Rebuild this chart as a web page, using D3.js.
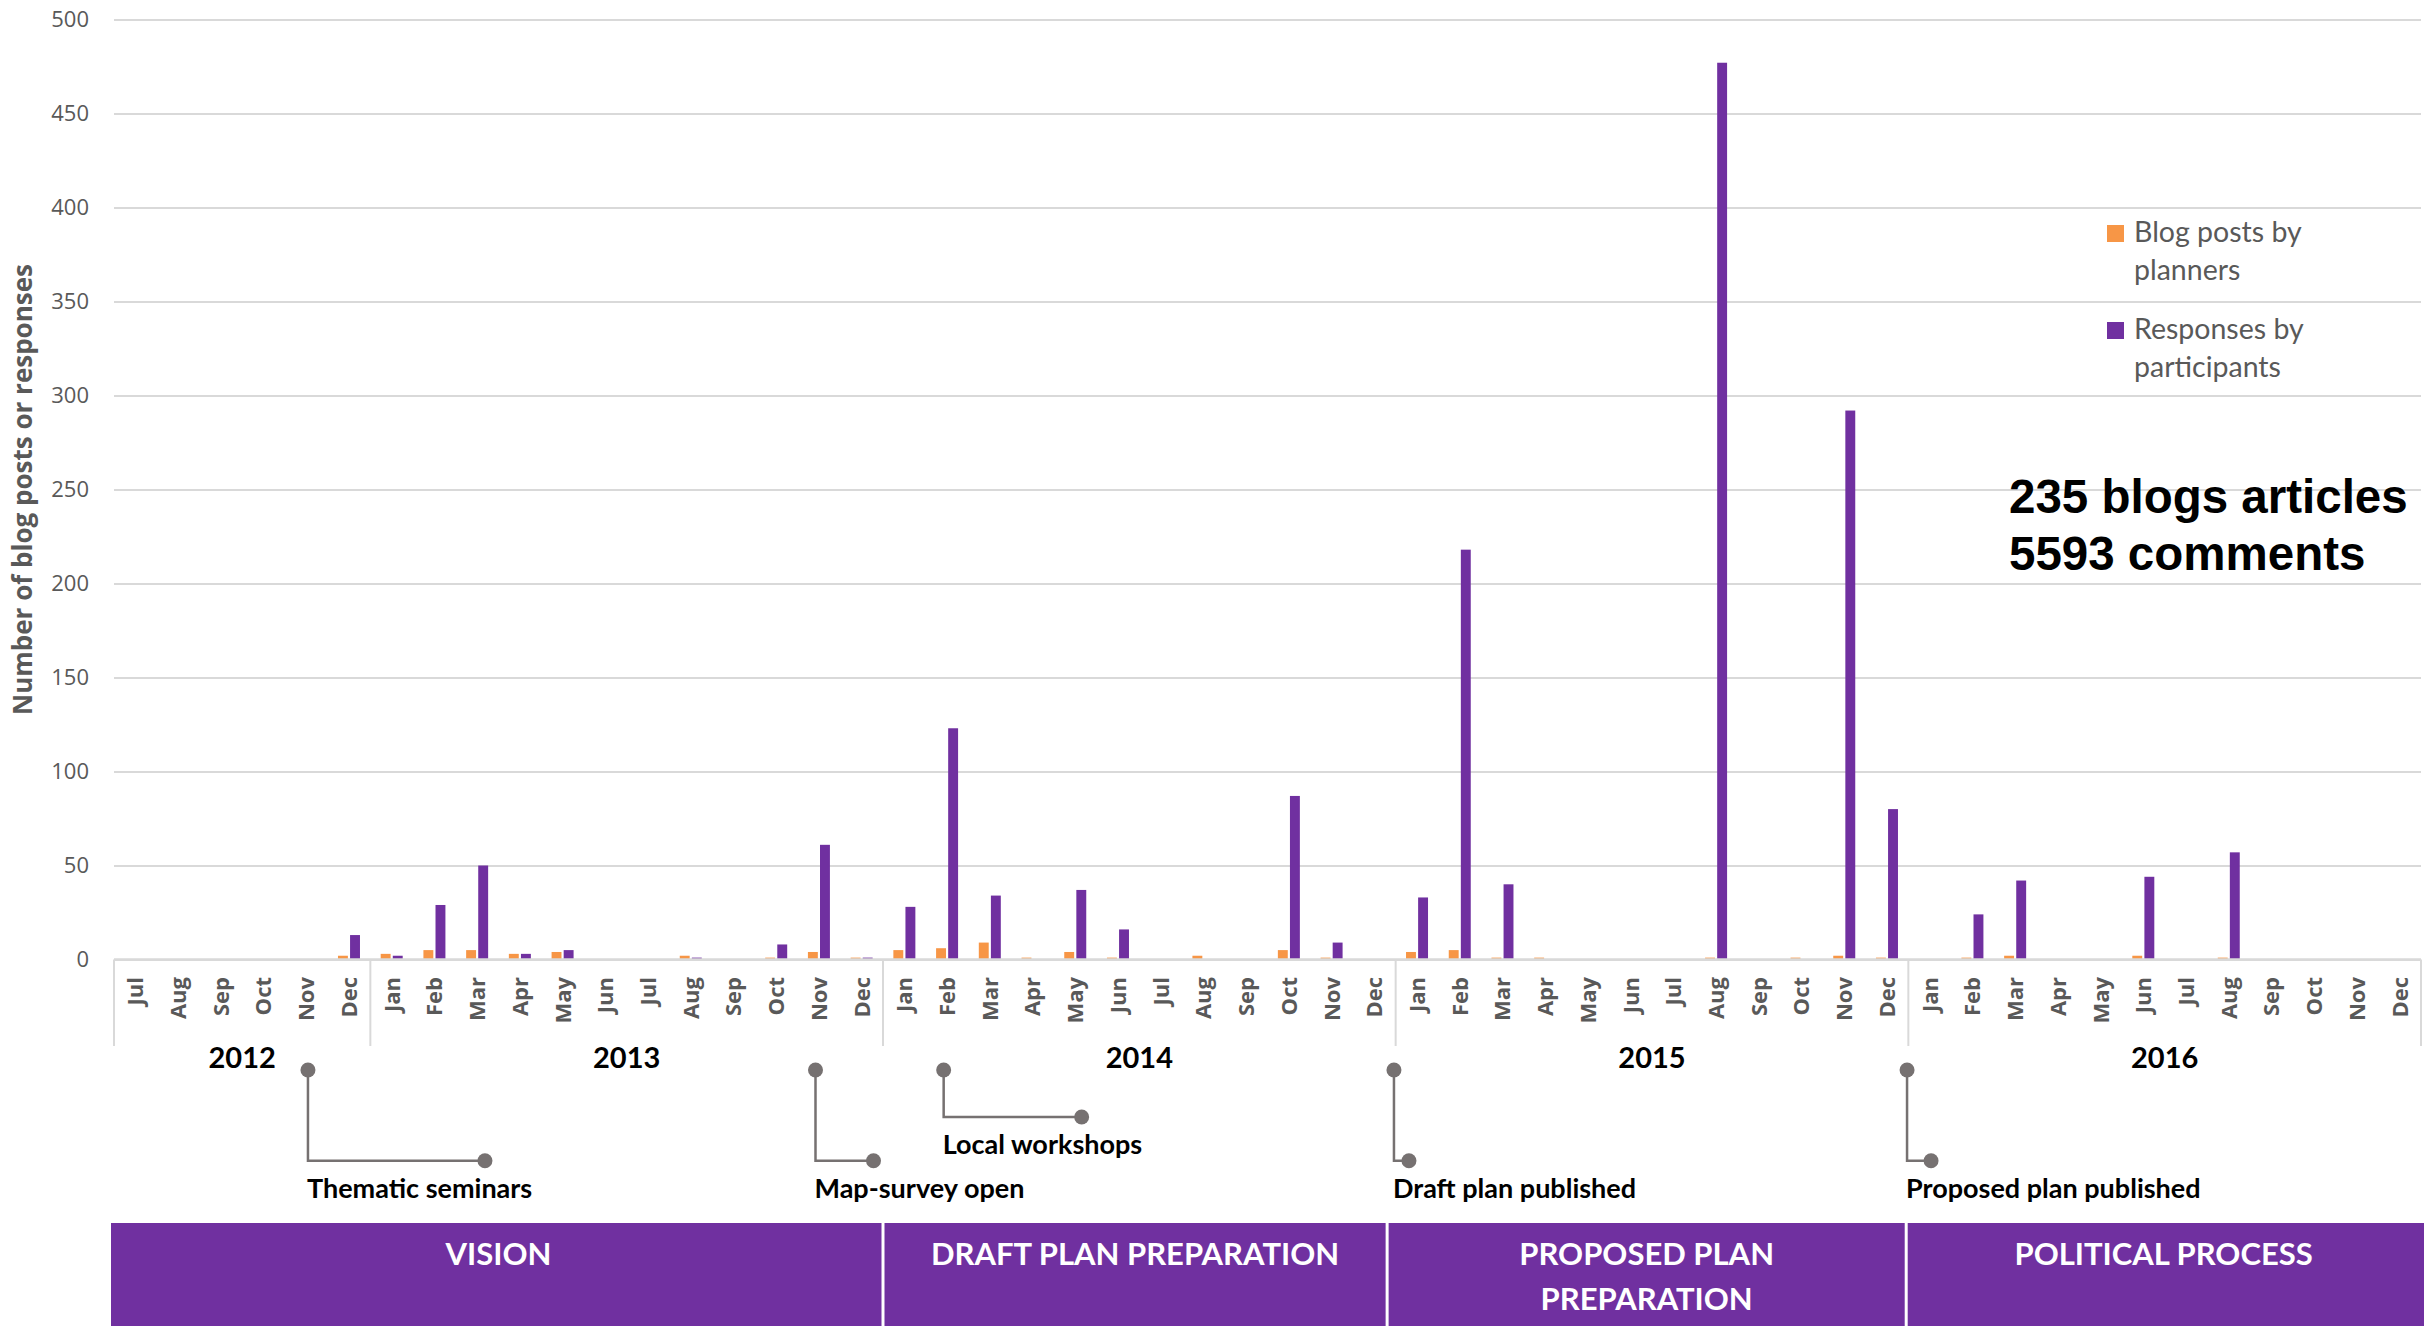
<!DOCTYPE html>
<html>
<head>
<meta charset="utf-8">
<script src="https://cdn.jsdelivr.net/npm/d3@7"></script>
<style>
body { margin: 0; background: white; }
</style>
</head>
<body>
<script>

// ---- data ----
var years = ["2012", "2013", "2014", "2015", "2016"];
var monthsInYear = [6, 12, 12, 12, 12];   // chart starts in Jul 2012
var monthNames = ["Jan","Feb","Mar","Apr","May","Jun","Jul","Aug","Sep","Oct","Nov","Dec"];

var blogPosts = [
    0, 0, 0, 0, 0, 2,
    3, 5, 5, 3, 4, 0, 0, 2, 0, 1, 4, 1,
    5, 6, 9, 1, 4, 1, 0, 2, 0, 5, 1, 0,
    4, 5, 1, 1, 0, 0, 0, 1, 0, 1, 2, 1,
    0, 1, 2, 0, 0, 2, 0, 1, 0, 0, 0, 0
];
var responses = [
    0, 0, 0, 0, 0, 13,
    2, 29, 50, 3, 5, 0, 0, 1, 0, 8, 61, 1,
    28, 123, 34, 0, 37, 16, 0, 0, 0, 87, 9, 0,
    33, 218, 40, 0, 0, 0, 0, 477, 0, 0, 292, 80,
    0, 24, 42, 0, 0, 44, 0, 57, 0, 0, 0, 0
];
var yTicks = [0, 50, 100, 150, 200, 250, 300, 350, 400, 450, 500];

var seriesNames = ["Blog posts by planners", "Responses by participants"];
var seriesColors = ["#F79646", "#7030A0"];

// milestones, position in months from Jul 2012
var milestoneLabels = ["Thematic seminars", "Map-survey open", "Local workshops", "Draft plan published", "Proposed plan published"];
var milestoneMonths = [4.54, 16.42, 19.42, 29.96, 41.97];

// phases, start in months from Jul 2012
var phaseLabels = [["VISION"], ["DRAFT PLAN PREPARATION"], ["PROPOSED PLAN", "PREPARATION"], ["POLITICAL PROCESS"]];
var phaseStarts = [0, 18, 29.8, 41.95, 54];

var summaryLines = ["235 blogs articles", "5593 comments"];

// ---- build categories ----
var categories = [];
var i, j;
for (i = 0; i < years.length; i++) {
    for (j = 12 - monthsInYear[i]; j < 12; j++) {
        categories.push({key: years[i] + "-" + monthNames[j], month: monthNames[j], year: years[i]});
    }
}
var rows = categories.map(function(c, k) {
    return {key: c.key, month: c.month, values: [blogPosts[k], responses[k]]};
});

// ---- layout ----
var width = 2433, height = 1326;
var plotLeft = 114, plotRight = 2421, plotTop = 19.5, plotBottom = 959.5;
var grey = "#595959";
var lineGrey = "#D9D9D9";
var markGrey = "#767171";

var svg = d3.select("body").append("svg")
    .attr("width", width)
    .attr("height", height)
    .style("font-family", "'Open Sans', sans-serif");

var y = d3.scaleLinear().domain([0, 500]).range([plotBottom, plotTop]);

var x0 = d3.scaleBand()
    .domain(rows.map(function(d){return d.key}))
    .range([plotLeft, plotRight])
    .paddingInner(0.485)
    .paddingOuter(0.2425);

var x1 = d3.scaleBand()
    .domain([0, 1])
    .range([0, x0.bandwidth()])
    .paddingInner(0.18);

// month units -> px (for year lines, milestones, phases)
var xm = d3.scaleLinear().domain([0, categories.length]).range([plotLeft, plotRight]);

//gridlines + tick labels
var yAxis = svg.append("g")
    .attr("transform", "translate(" + plotLeft + ",0)")
    .call(d3.axisLeft(y).tickValues(yTicks).tickSize(-(plotRight - plotLeft)).tickPadding(25));
yAxis.select(".domain").remove();
yAxis.selectAll(".tick line").attr("stroke", lineGrey).attr("stroke-width", 2);
yAxis.selectAll(".tick text")
    .attr("fill", grey)
    .style("font-size", "22px")
    .style("font-family", "'Open Sans', sans-serif");

//y title
svg.append("text")
    .attr("transform", "translate(32," + ((plotTop + plotBottom) / 2) + ") rotate(-90)")
    .attr("text-anchor", "middle")
    .attr("fill", grey)
    .style("font-size", "26px")
    .style("font-weight", "bold")
    .text("Number of blog posts or responses");

//draw bars
var groups = svg.selectAll("g.month")
    .data(rows)
    .enter()
    .append("g")
    .attr("class", "month")
    .attr("transform", function(d){return "translate(" + x0(d.key) + ",0)"});

groups.selectAll("rect")
    .data(function(d){return d.values})
    .enter()
    .append("rect")
    .attr("x", function(d, k){return x1(k)})
    .attr("width", x1.bandwidth())
    .attr("y", function(d){return y(d)})
    .attr("height", function(d){return y(0) - y(d)})
    .attr("fill", function(d, k){return seriesColors[k]});

//month labels
svg.selectAll("text.month")
    .data(rows)
    .enter()
    .append("text")
    .attr("class", "month")
    .attr("transform", function(d){return "translate(" + (x0(d.key) + x0.bandwidth() / 2) + ",977) rotate(-90)"})
    .attr("text-anchor", "end")
    .attr("dy", "0.36em")
    .attr("fill", grey)
    .style("font-size", "22px")
    .style("font-weight", "bold")
    .text(function(d){return d.month});

//year separators and labels
var yearEdges = [0];
for (i = 0; i < monthsInYear.length; i++) yearEdges.push(yearEdges[i] + monthsInYear[i]);

svg.selectAll("line.year")
    .data(yearEdges)
    .enter()
    .append("line")
    .attr("class", "year")
    .attr("x1", function(d){return xm(d)})
    .attr("x2", function(d){return xm(d)})
    .attr("y1", plotBottom)
    .attr("y2", 1046)
    .attr("stroke", lineGrey)
    .attr("stroke-width", 2);

svg.selectAll("text.year")
    .data(years)
    .enter()
    .append("text")
    .attr("class", "year")
    .attr("x", function(d, k){return xm((yearEdges[k] + yearEdges[k + 1]) / 2)})
    .attr("y", 1068)
    .attr("text-anchor", "middle")
    .style("font-family", "Lato, sans-serif")
    .style("font-weight", "bold")
    .style("font-size", "29px")
    .attr("fill", "black")
    .text(function(d){return d});

//x axis line
svg.append("line")
    .attr("x1", plotLeft).attr("x2", plotRight)
    .attr("y1", y(0)).attr("y2", y(0))
    .attr("stroke", lineGrey)
    .attr("stroke-width", 2.5);

//milestones
var dotY = 1070;
var dropY = [1160.7, 1160.7, 1117, 1160.7, 1160.7];
var reach = [177, 58, 138, 15, 24];

var ms = svg.selectAll("g.milestone")
    .data(milestoneLabels)
    .enter()
    .append("g")
    .attr("class", "milestone");

ms.append("path")
    .attr("d", function(d, k){
        var mx = xm(milestoneMonths[k]);
        return "M" + mx + "," + dotY + "V" + dropY[k] + "H" + (mx + reach[k]);
    })
    .attr("fill", "none")
    .attr("stroke", markGrey)
    .attr("stroke-width", 2.5);
ms.append("circle")
    .attr("cx", function(d, k){return xm(milestoneMonths[k])})
    .attr("cy", dotY)
    .attr("r", 7.5)
    .attr("fill", markGrey);
ms.append("circle")
    .attr("cx", function(d, k){return xm(milestoneMonths[k]) + reach[k]})
    .attr("cy", function(d, k){return dropY[k]})
    .attr("r", 7.5)
    .attr("fill", markGrey);
ms.append("text")
    .attr("x", function(d, k){return xm(milestoneMonths[k]) - 1})
    .attr("y", function(d, k){return dropY[k] + 37})
    .style("font-family", "Lato, sans-serif")
    .style("font-weight", "bold")
    .style("font-size", "27px")
    .attr("fill", "black")
    .text(function(d){return d});

//phase band
var ph = svg.selectAll("g.phase")
    .data(phaseLabels)
    .enter()
    .append("g")
    .attr("class", "phase");

ph.append("rect")
    .attr("x", function(d, k){return xm(phaseStarts[k]) + (k === 0 ? -3 : 1.5)})
    .attr("width", function(d, k){
        var a = xm(phaseStarts[k]) + (k === 0 ? -3 : 1.5);
        var b = xm(phaseStarts[k + 1]) + (k === phaseLabels.length - 1 ? 3 : -1.5);
        return b - a;
    })
    .attr("y", 1223)
    .attr("height", height - 1223)
    .attr("fill", "#7030A0");

ph.each(function(d, k){
    var cx = (xm(phaseStarts[k]) + xm(phaseStarts[k + 1])) / 2;
    d3.select(this).selectAll("text")
        .data(d)
        .enter()
        .append("text")
        .attr("x", cx)
        .attr("y", function(t, n){return 1265 + n * 45})
        .attr("text-anchor", "middle")
        .style("font-family", "Lato, sans-serif")
        .style("font-weight", "bold")
        .style("font-size", "31px")
        .attr("fill", "white")
        .text(function(t){return t});
});

//legend
var legendWords = [["Blog posts by", "planners"], ["Responses by", "participants"]];
var lg = svg.selectAll("g.legend")
    .data(seriesNames)
    .enter()
    .append("g")
    .attr("class", "legend")
    .attr("transform", function(d, k){return "translate(2107," + (225 + k * 97) + ")"});
lg.append("rect")
    .attr("width", 17)
    .attr("height", 17)
    .attr("fill", function(d, k){return seriesColors[k]});
lg.append("text")
    .attr("x", 27)
    .attr("y", 17)
    .style("font-family", "Lato, sans-serif")
    .style("font-size", "28.5px")
    .attr("fill", grey)
    .selectAll("tspan")
    .data(function(d, k){return legendWords[k]})
    .enter()
    .append("tspan")
    .attr("x", 27)
    .attr("dy", function(t, n){return n === 0 ? 0 : 38})
    .text(function(t){return t});

//summary text
svg.selectAll("text.summary")
    .data(summaryLines)
    .enter()
    .append("text")
    .attr("class", "summary")
    .attr("x", 2009)
    .attr("y", function(d, k){return 513 + k * 57})
    .style("font-family", "'Liberation Sans', Arial, sans-serif")
    .style("font-weight", "bold")
    .style("font-size", "47.5px")
    .attr("fill", "black")
    .text(function(d){return d});

</script>
</body>
</html>
